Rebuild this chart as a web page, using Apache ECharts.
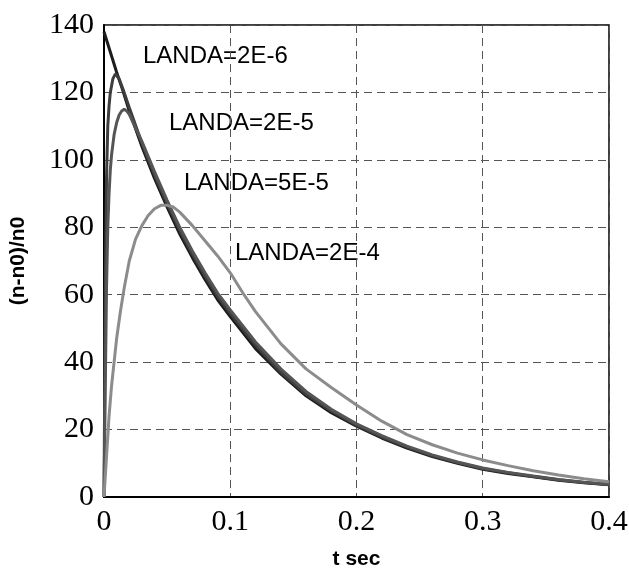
<!DOCTYPE html>
<html>
<head>
<meta charset="utf-8">
<script src="https://cdn.jsdelivr.net/npm/echarts@6/dist/echarts.min.js"></script>
<style>
html,body{margin:0;padding:0;background:#fff;}
#chart{width:629px;height:568px;}
</style>
</head>
<body>
<div id="chart"></div>
<script>
// ---- data ----
const seriesNames = ['LANDA=2E-6', 'LANDA=2E-5', 'LANDA=5E-5', 'LANDA=2E-4'];

const t_2E6 = [0, 0.005, 0.01, 0.015, 0.02, 0.03, 0.04, 0.05, 0.06, 0.07, 0.08, 0.09, 0.1, 0.12, 0.14, 0.16, 0.18, 0.2, 0.22, 0.24, 0.26, 0.28, 0.3, 0.32, 0.34, 0.36, 0.38, 0.4];
const v_2E6 = [138, 132, 126, 120.5, 114.5, 104, 94.5, 86, 78, 71, 64.5, 58.5, 53.5, 44, 36.5, 30, 25, 21, 17.5, 14.5, 12, 10, 8.2, 7, 6, 5, 4.2, 3.6];

const t_2E5 = [0, 0.001, 0.002, 0.003, 0.004, 0.005, 0.007, 0.009, 0.012, 0.015, 0.02, 0.03, 0.04, 0.05, 0.06, 0.07, 0.08, 0.09, 0.1, 0.12, 0.14, 0.16, 0.18, 0.2, 0.22, 0.24, 0.26, 0.28, 0.3, 0.32, 0.34, 0.36, 0.38, 0.4];
const v_2E5 = [0, 60, 95, 110, 116, 120, 124, 125.5, 124, 121, 115.5, 105, 95.5, 87, 79, 72, 65.5, 59.5, 54.5, 45, 37, 30.5, 25.5, 21.3, 17.8, 14.8, 12.2, 10.2, 8.4, 7.2, 6.1, 5.1, 4.3, 3.7];

const t_5E5 = [0, 0.001, 0.002, 0.003, 0.004, 0.005, 0.006, 0.008, 0.01, 0.012, 0.014, 0.016, 0.018, 0.02, 0.025, 0.03, 0.04, 0.05, 0.06, 0.07, 0.08, 0.09, 0.1, 0.12, 0.14, 0.16, 0.18, 0.2, 0.22, 0.24, 0.26, 0.28, 0.3, 0.32, 0.34, 0.36, 0.38, 0.4];
const v_5E5 = [0, 32, 62, 80, 90, 97, 101.5, 107.5, 111, 113.3, 114.5, 115, 114.5, 113.5, 109.5, 105.5, 96.5, 88, 80, 73, 66.5, 60.5, 55.5, 46, 38, 31.3, 26, 21.7, 18.2, 15.1, 12.5, 10.4, 8.6, 7.3, 6.2, 5.2, 4.4, 3.8];

const t_2E4 = [0, 0.002, 0.004, 0.006, 0.008, 0.01, 0.013, 0.016, 0.02, 0.025, 0.03, 0.035, 0.04, 0.045, 0.05, 0.055, 0.06, 0.07, 0.08, 0.09, 0.1, 0.11, 0.12, 0.14, 0.16, 0.18, 0.2, 0.22, 0.24, 0.26, 0.28, 0.3, 0.32, 0.34, 0.36, 0.38, 0.4];
const v_2E4 = [0, 12, 24, 33, 40, 47, 55, 62, 70, 76.5, 80.5, 83.5, 85.5, 86.5, 86.5, 86, 84.5, 80.5, 76, 71.5, 66.5, 60.5, 55, 45.5, 38, 32.5, 27.3, 22.5, 18.5, 15.5, 13, 11, 9.3, 7.8, 6.5, 5.4, 4.5];

const xTickLabels = ['0', '0.1', '0.2', '0.3', '0.4'];
const yTickLabels = ['0', '20', '40', '60', '80', '100', '120', '140'];
const xAxisTitle = 't sec';
const yAxisTitle = '(n-n0)/n0';

// ---- build ----
function pairs(ts, vs) { return ts.map((t, i) => [t, vs[i]]); }
const allT = [t_2E6, t_2E5, t_5E5, t_2E4];
const allV = [v_2E6, v_2E5, v_5E5, v_2E4];
const colors = ['#1c1c1c', '#3e3e3e', '#555555', '#8c8c8c'];

const chart = echarts.init(document.getElementById('chart'), null, {renderer: 'canvas'});

const gridLine = {show: true, lineStyle: {color: '#555', width: 1, type: [8, 5]}};

const option = {
  animation: false,
  backgroundColor: '#fff',
  grid: {left: 104, right: 20, top: 25, bottom: 71, containLabel: false, outerBoundsMode: 'none',
         show: true, borderColor: '#000', borderWidth: 1.5, backgroundColor: 'transparent'},
  xAxis: {
    type: 'value', min: 0, max: 0.4, interval: 0.1,
    name: xAxisTitle, nameLocation: 'middle', nameGap: 52,
    nameTextStyle: {fontFamily: 'Liberation Sans', fontWeight: 'bold', fontSize: 21, color: '#000'},
    axisLine: {show: true, lineStyle: {color: '#000', width: 2}},
    axisTick: {show: false},
    axisLabel: {
      margin: 10, color: '#000', fontFamily: 'Liberation Serif', fontSize: 30,
      formatter: (v) => xTickLabels[Math.round(v * 10)]
    },
    splitLine: gridLine
  },
  yAxis: {
    type: 'value', min: 0, max: 140, interval: 20,
    name: yAxisTitle, nameLocation: 'middle', nameGap: 75, nameRotate: 90,
    nameTextStyle: {fontFamily: 'Liberation Sans', fontWeight: 'bold', fontSize: 21, color: '#000'},
    axisLine: {show: true, lineStyle: {color: '#000', width: 2}},
    axisTick: {show: false},
    axisLabel: {
      margin: 10, color: '#000', fontFamily: 'Liberation Serif', fontSize: 30,
      formatter: (v) => yTickLabels[Math.round(v / 20)]
    },
    splitLine: gridLine
  },
  series: seriesNames.map((n, i) => ({
    name: n, type: 'line', data: pairs(allT[i], allV[i]),
    showSymbol: false, smooth: false,
    lineStyle: {color: colors[i], width: 3}, z: 2 + i
  })),
  graphic: [
    {type: 'text', left: 143, top: 44, style: {text: seriesNames[0], font: '24px "Liberation Sans"', fill: '#000'}},
    {type: 'text', left: 169, top: 111, style: {text: seriesNames[1], font: '24px "Liberation Sans"', fill: '#000'}},
    {type: 'text', left: 184, top: 171, style: {text: seriesNames[2], font: '24px "Liberation Sans"', fill: '#000'}},
    {type: 'text', left: 235, top: 241, style: {text: seriesNames[3], font: '24px "Liberation Sans"', fill: '#000'}}
  ]
};
chart.setOption(option);
</script>
</body>
</html>
